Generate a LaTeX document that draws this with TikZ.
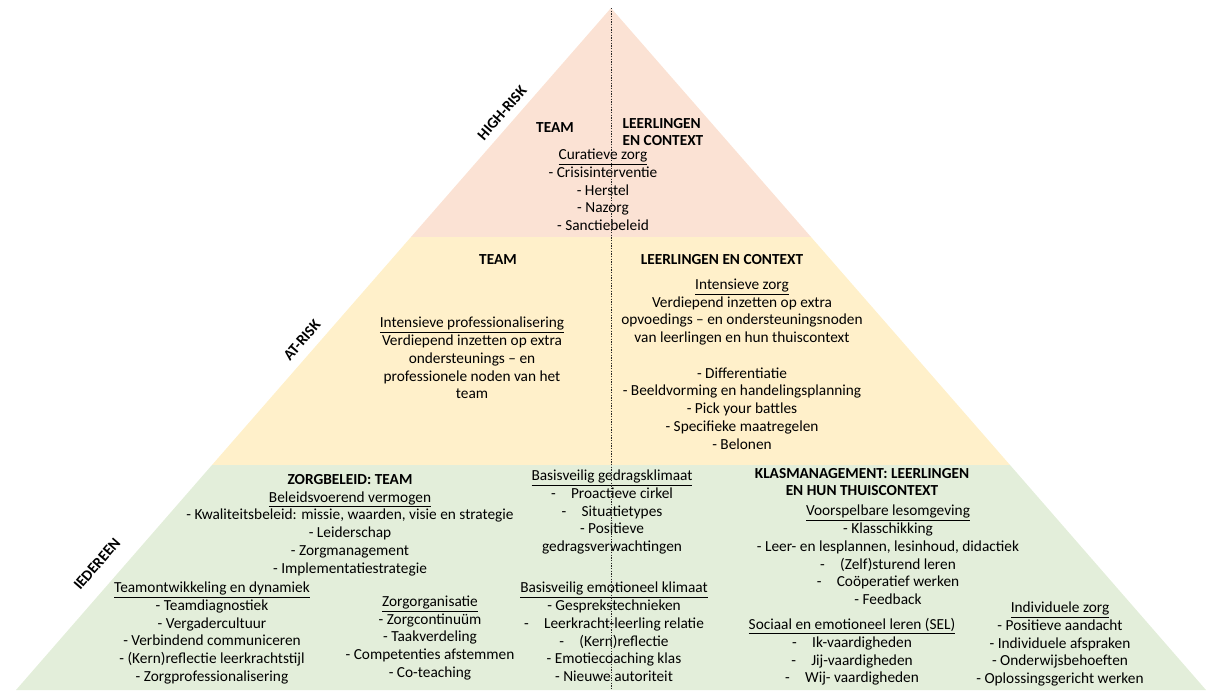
\documentclass[tikz,border=0pt]{standalone}
\usepackage{fontspec}
\setmainfont{Carlito}
\usepackage{tikz}
\usetikzlibrary{positioning}
\definecolor{hrpink}{HTML}{FBE2D4}
\definecolor{aryellow}{HTML}{FFF0CA}
\definecolor{idgreen}{HTML}{E3EEDA}
\newcommand{\ul}[1]{\underline{#1}}
\newcommand{\pyrfont}{\fontsize{11.5}{13.3}\selectfont}

\begin{document}
\begin{tikzpicture}[x=0.75pt,y=-0.75pt]
		\useasboundingbox (0,0) rectangle (1210,690);

		% corners of the pyramid
		\coordinate (apex) at (611,8);
		\coordinate (hrL) at (411,237);
		\coordinate (hrR) at (811,237);
		\coordinate (arL) at (212,465);
		\coordinate (arR) at (1010,465);
		\coordinate (idL) at (16,690);
		\coordinate (idR) at (1206,690);
		\coordinate (foot) at (611,690);

		\fill[hrpink] (apex) -- (hrR) -- (hrL) -- cycle;
		\fill[aryellow] (hrL) -- (hrR) -- (arR) -- (arL) -- cycle;
		\fill[idgreen] (arL) -- (arR) -- (idR) -- (idL) -- cycle;

		\begin{scope}[every node/.style={align=center,inner sep=0pt,font=\pyrfont},
				head/.style={font=\pyrfont\bfseries}]
			% high-risk
			\node[head,rotate=49] (hrLabel) at (502,113) {HIGH-RISK};
			\node[head] (hrTeam) at (555,128) {TEAM};
			\node[head,align=left] (hrLeer) at (663,132) {LEERLINGEN\\EN CONTEXT};
			\node (hrZorg) at (603,190) {\ul{Curatieve zorg}\\- Crisisinterventie\\- Herstel\\- Nazorg\\- Sanctiebeleid};

			% at-risk
			\node[head,rotate=49] (arLabel) at (302,340) {AT-RISK};
			\node[head] (arTeam) at (498,260) {TEAM};
			\node (arProf) at (472,358) {\ul{Intensieve professionalisering}\\Verdiepend inzetten op extra\\ondersteunings -- en\\professionele noden van het\\team};
			\node[head] (arLeer) at (722,260) {LEERLINGEN EN CONTEXT};
			\node (arZorg) at (742,364) {\ul{Intensieve zorg}\\Verdiepend inzetten op extra\\opvoedings -- en ondersteuningsnoden\\van leerlingen en hun thuiscontext\\~\\- Differentiatie\\- Beeldvorming en handelingsplanning\\- Pick your battles\\- Specifieke maatregelen\\- Belonen};

			% iedereen
			\node[head,rotate=49] (idLabel) at (97,564) {IEDEREEN};
			\node (zorgBeleid) at (350,525) {\textbf{ZORGBELEID: TEAM}\\\ul{Beleidsvoerend vermogen}\\- Kwaliteitsbeleid: missie, waarden, visie en strategie\\- Leiderschap\\- Zorgmanagement\\- Implementatiestrategie};
			\node (teamOntw) at (212,633) {\ul{Teamontwikkeling en dynamiek}\\- Teamdiagnostiek\\- Vergadercultuur\\- Verbindend communiceren\\- (Kern)reflectie leerkrachtstijl\\- Zorgprofessionalisering};
			\node (zorgOrg) at (430,638) {\ul{Zorgorganisatie}\\- Zorgcontinuüm\\- Taakverdeling\\- Competenties afstemmen\\- Co-teaching};
			\node (gedrag) at (612,512) {\ul{Basisveilig gedragsklimaat}\\-\quad Proactieve cirkel\\-\quad Situatietypes\\- Positieve\\gedragsverwachtingen};
			\node (emotie) at (614,632) {\ul{Basisveilig emotioneel klimaat}\\- Gesprekstechnieken\\-\quad Leerkracht-leerling relatie\\-\quad (Kern)reflectie\\- Emotiecoaching klas\\- Nieuwe autoriteit};
			\node[head] (klasTitle) at (862,482) {KLASMANAGEMENT: LEERLINGEN\\EN HUN THUISCONTEXT};
			\node (lesOmg) at (888,555) {\ul{Voorspelbare lesomgeving}\\- Klasschikking\\- Leer- en lesplannen, lesinhoud, didactiek\\-\quad (Zelf)sturend leren\\-\quad Coöperatief werken\\- Feedback};
			\node (sel) at (852,652) {\ul{Sociaal en emotioneel leren (SEL)}\\-\quad Ik-vaardigheden\\-\quad Jij-vaardigheden\\-\quad Wij- vaardigheden};
			\node (indiv) at (1060,644) {\ul{Individuele zorg}\\- Positieve aandacht\\- Individuele afspraken\\- Onderwijsbehoeften\\- Oplossingsgericht werken};
		\end{scope}

		% split team / leerlingen
		\draw[black!85,line width=0.7pt,dash pattern=on 1pt off 1pt] (apex) -- (foot);
	\end{tikzpicture}
\end{document}
